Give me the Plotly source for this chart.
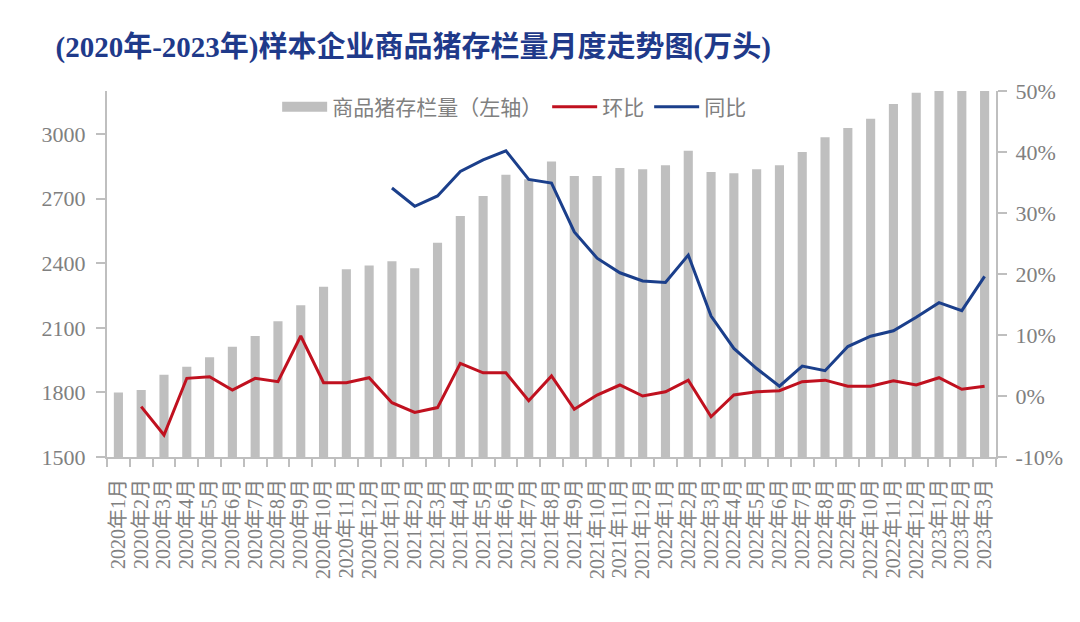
import plotly.graph_objects as go

months = [f"{y}年{m}月" for y, m in
          [(2020, m) for m in range(1, 13)] + [(2021, m) for m in range(1, 13)] +
          [(2022, m) for m in range(1, 13)] + [(2023, m) for m in range(1, 4)]]

stock = [1800, 1811, 1882, 1919, 1963, 2012, 2062, 2130, 2205, 2291, 2372, 2390,
         2409, 2377, 2495, 2619, 2712, 2811, 2790, 2873, 2805, 2805, 2842, 2836,
         2855, 2923, 2824, 2818, 2836, 2855, 2917, 2985, 3028, 3071, 3140, 3192,
         3290, 3323, 3380]

mom = [None, -1.75, -6.4, 2.9, 3.17, 0.98, 2.9, 2.35, 9.84, 2.18, 2.18, 3.0,
       -1.1, -2.7, -1.9, 5.36, 3.8, 3.8, -0.77, 3.28, -2.18, 0.16, 1.8, 0.0,
       0.7, 2.6, -3.4, 0.16, 0.7, 0.87, 2.35, 2.6, 1.6, 1.6, 2.5, 1.8,
       3.0, 1.1, 1.6]

yoy = [None] * 12 + [34.1, 31.1, 32.8, 36.8, 38.7, 40.2, 35.5, 34.9, 26.9, 22.6, 20.2, 18.85,
                     18.6, 23.1, 13.1, 7.8, 4.5, 1.6, 4.9, 4.15, 8.1, 9.8, 10.7, 12.9,
                     15.3, 14.0, 19.6]

left_ticks = [1500, 1800, 2100, 2400, 2700, 3000]
right_ticks = [-10, 0, 10, 20, 30, 40, 50]

FONT = "Liberation Serif, Noto Sans CJK SC, serif"
GRAY_TXT = "#808080"
AXIS = "#bfbfbf"
BAR = "#bfbfbf"

fig = go.Figure()
fig.add_trace(go.Bar(x=months, y=stock, name="商品猪存栏量（左轴）", showlegend=False,
                     legendgroup="bar",
                     marker=dict(color=BAR, line=dict(width=0))))
# legend key for the bars (wide grey block, as in the original legend)
fig.add_trace(go.Scatter(x=[None], y=[None], name="商品猪存栏量（左轴）", mode="lines",
                         legendgroup="bar", line=dict(color=BAR, width=12)))
fig.add_trace(go.Scatter(x=months, y=mom, name="环比", mode="lines",
                         line=dict(color="#c0111f", width=3), yaxis="y2"))
fig.add_trace(go.Scatter(x=months, y=yoy, name="同比", mode="lines",
                         line=dict(color="#1b3f8b", width=3), yaxis="y2"))

fig.update_layout(
    width=1080, height=622,
    margin=dict(l=99, r=92, t=83, b=173),
    paper_bgcolor="white", plot_bgcolor="white",
    bargap=0.6,
    font=dict(family=FONT, color=GRAY_TXT),
    title=dict(text="<b>(2020年-2023年)样本企业商品猪存栏量月度走势图(万头)</b>",
               x=0.044, xanchor="left", y=0.937, yanchor="middle",
               font=dict(family=FONT, size=29, color="#1f3a8a")),
    showlegend=True,
    legend=dict(orientation="h", x=0.458, xanchor="center", y=1.012, yanchor="top",
                font=dict(size=21, color=GRAY_TXT, family="Noto Sans CJK SC, serif"),
                bgcolor="rgba(0,0,0,0)", itemwidth=45, tracegroupgap=0),
    xaxis=dict(type="category", tickangle=-90, showgrid=False,
               tickmode="array", tickvals=months, ticktext=months,
               showline=True, linecolor=AXIS, linewidth=2,
               ticks="outside", ticklen=8, tickcolor=AXIS, tickwidth=2,
               tickson="boundaries", ticklabelstandoff=12,
               tickfont=dict(size=20, color=GRAY_TXT, family=FONT)),
    yaxis=dict(range=[1500, 3200], tickvals=left_ticks,
               ticktext=[str(v) for v in left_ticks],
               showgrid=False, zeroline=False, showline=True, linecolor=AXIS, linewidth=2,
               ticks="outside", ticklen=9, tickcolor=AXIS, tickwidth=2,
               ticklabelstandoff=6,
               tickfont=dict(size=22, color=GRAY_TXT, family=FONT)),
    yaxis2=dict(range=[-10, 50], tickvals=right_ticks,
                ticktext=[f"{v}%" for v in right_ticks],
                overlaying="y", side="right", showgrid=False, zeroline=False,
                showline=True, linecolor=AXIS, linewidth=2,
                ticks="outside", ticklen=9, tickcolor=AXIS, tickwidth=2,
                ticklabelstandoff=4,
                tickfont=dict(size=22, color=GRAY_TXT, family=FONT)),
)

fig.write_html("out.html")
